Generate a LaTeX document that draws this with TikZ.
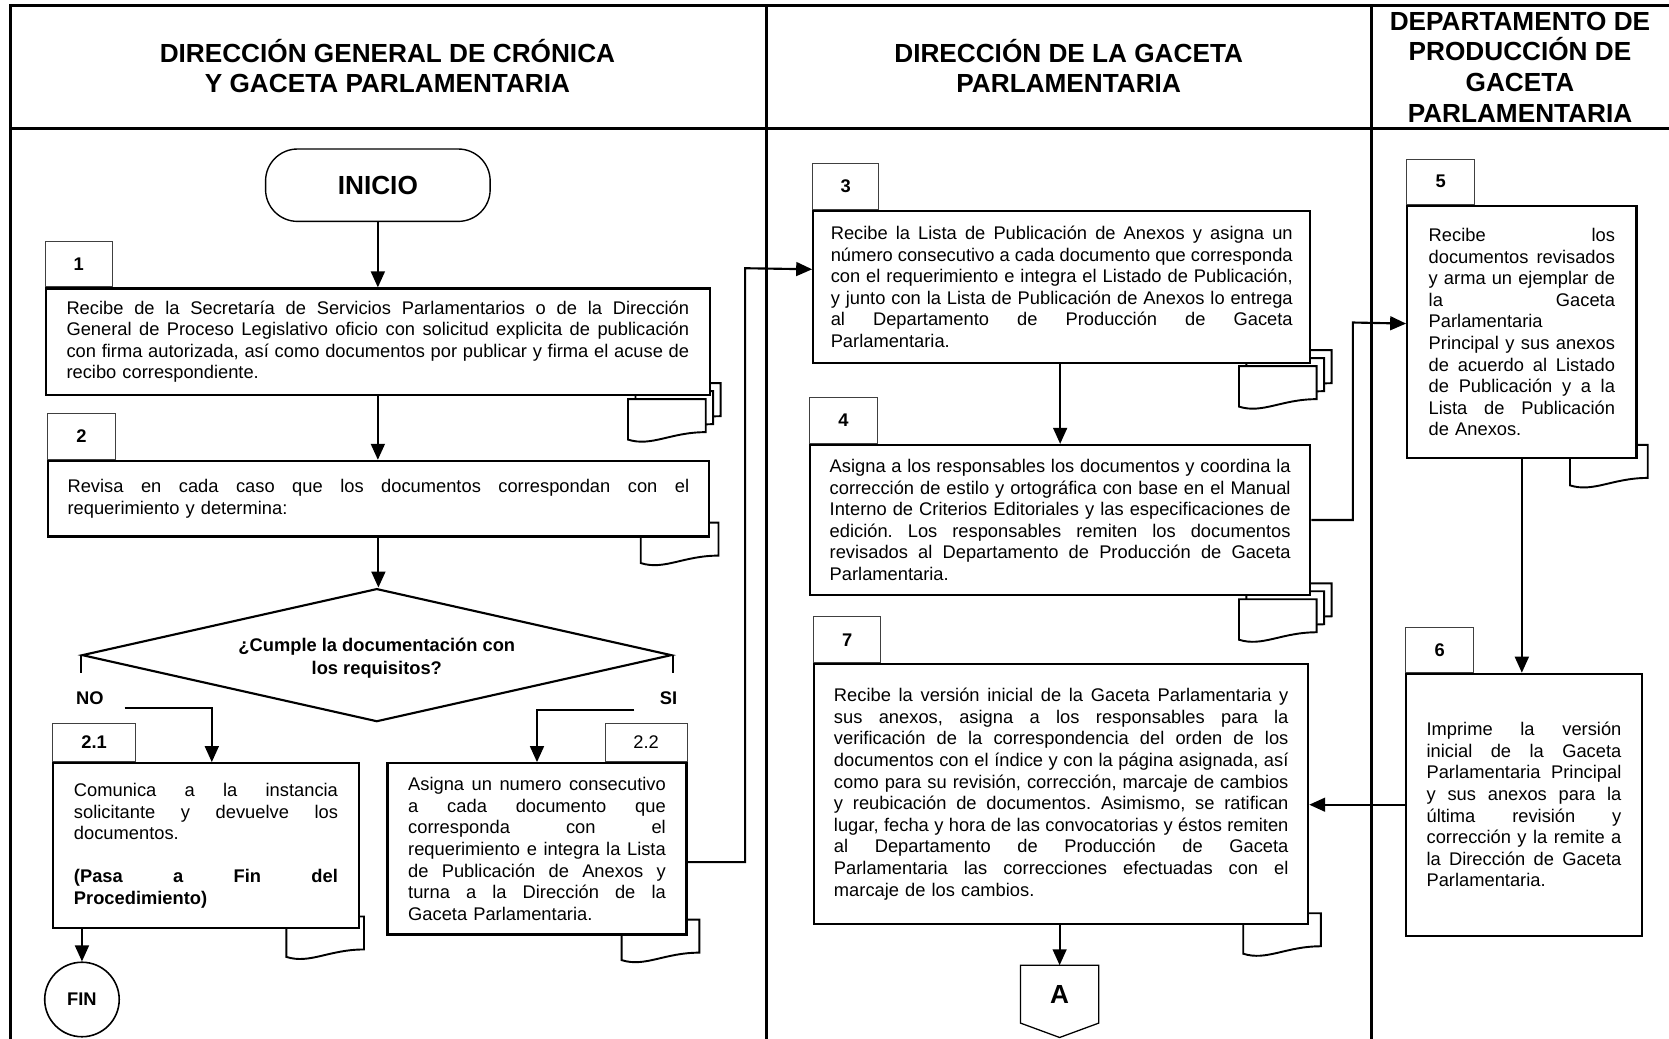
\documentclass[tikz,border=0pt]{standalone}
\usepackage{fontspec}
\setmainfont{Liberation Sans}
\usetikzlibrary{arrows.meta,shapes.geometric}
\frenchspacing

\newcommand{\cuerpo}{\fontsize{17.2pt}{20.3pt}\selectfont}
\newcommand{\negrita}{\fontsize{17.2pt}{22pt}\selectfont\bfseries}
\newcommand{\titulo}{\fontsize{24.6pt}{28.8pt}\selectfont\bfseries}
\newcommand{\jl}[1]{\makebox[\linewidth][s]{\spaceskip=0pt\xspaceskip=0pt\relax #1}\\}
\newcommand{\hoja}[2]{\draw[linhoja, shift={(#1,#2)}] (0,0) -- (73,0) -- (73,31) .. controls (40,31) and (22,45) .. (0,38) -- cycle;}
\newcommand{\pila}[2]{\hoja{#1+14}{#2-15}\hoja{#1+7}{#2-7.5}\hoja{#1}{#2}}

\tikzset{
  carril/.style={line width=2.5pt, line cap=rect},
  linhoja/.style={line width=1.8pt, fill=white},
  caja/.style={draw, line width=2pt, fill=white, anchor=north west, inner sep=0pt, align=left, font=\cuerpo},
  etiq/.style={draw=black!75, line width=1pt, minimum width=63pt, minimum height=43pt, inner sep=0pt, anchor=south west, font=\negrita},
  flujo/.style={line width=2pt, -{Triangle[length=15pt,width=13pt]}},
  linea/.style={line width=2pt}
}

\begin{document}
\begin{tikzpicture}[x=1pt, y=-1pt]
    \useasboundingbox (0,0) rectangle (1568,976);
    \draw[carril] (1568,5) -- (10,5) -- (10,976);
    \draw[carril] (10,121) -- (1568,121);
    \draw[carril] (720,5) -- (720,976);
    \draw[carril] (1288.5,5) -- (1288.5,976);

    \node[font=\titulo, align=center] (h1) at (364,62) {DIRECCIÓN GENERAL DE CRÓNICA\\Y GACETA PARLAMENTARIA};
    \node[font=\titulo, align=center] (h2) at (1004,62) {DIRECCIÓN DE LA GACETA\\PARLAMENTARIA};
    \node[font=\titulo, align=center] (h3) at (1428,63) {DEPARTAMENTO DE\\PRODUCCIÓN DE\\GACETA\\PARLAMENTARIA};

    \pila{590}{375}
    \hoja{602}{491}
    \hoja{269}{861}
    \hoja{584}{864}
    \pila{1164}{344}
    \pila{1164}{563}
    \hoja{1168}{858}
    \hoja{1475}{418}

    \node[draw, line width=1.3pt, rounded corners=30pt, minimum width=211pt, minimum height=68pt, font=\titulo] (inicio) at (355,174) {INICIO};

    \node[caja, minimum width=624pt, minimum height=100pt, text width=585pt] (b1) at (42,270) {%
\jl{Recibe de la Secretaría de Servicios Parlamentarios o de la Dirección}
\jl{General de Proceso Legislativo oficio con solicitud explicita de publicación}
\jl{con firma autorizada, así como documentos por publicar y firma el acuse de}
recibo correspondiente.};
    \node[caja, minimum width=621pt, minimum height=71pt, text width=584pt] (b2) at (44,432) {%
\jl{Revisa en cada caso que los documentos correspondan con el}
requerimiento y determina:};
    \node[diamond, draw, line width=2pt, aspect=4.4, minimum width=554pt, minimum height=125pt, inner sep=0pt, align=center, font=\negrita] (dec) at (354,615.5) {\\[-4pt]¿Cumple la documentación con\\los requisitos?};
    \node[font=\negrita] (no) at (84.5,656) {NO};
    \node[font=\negrita] (si) at (628,656) {SI};
    \node[caja, minimum width=287pt, minimum height=155pt, text width=248pt] (b21) at (49,716) {%
\jl{Comunica a la instancia}
\jl{solicitante y devuelve los}
documentos.\\[20.3pt]
\jl{\bfseries (Pasa a Fin del}
{\bfseries Procedimiento)}};
    \node[caja, minimum width=281pt, minimum height=161pt, text width=242pt] (b22) at (363,716) {%
\jl{Asigna un numero consecutivo}
\jl{a cada documento que}
\jl{corresponda con el}
\jl{requerimiento e integra la Lista}
\jl{de Publicación de Anexos y}
\jl{turna a la Dirección de la}
Gaceta Parlamentaria.};
    \node[circle, draw, line width=1.5pt, minimum size=70pt, inner sep=0pt, font=\negrita] (fin) at (77,939) {FIN};

    \node[caja, minimum width=467pt, minimum height=143pt, text width=434pt] (b3) at (763,197) {%
\jl{Recibe la Lista de Publicación de Anexos y asigna un}
\jl{número consecutivo a cada documento que corresponda}
\jl{con el requerimiento e integra el Listado de Publicación,}
\jl{y junto con la Lista de Publicación de Anexos lo entrega}
\jl{al Departamento de Producción de Gaceta}
Parlamentaria.};
    \node[caja, minimum width=470pt, minimum height=141pt, text width=433pt] (b4) at (760,417) {%
\jl{Asigna a los responsables los documentos y coordina la}
\jl{corrección de estilo y ortográfica con base en el Manual}
\jl{Interno de Criterios Editoriales y las especificaciones de}
\jl{edición. Los responsables remiten los documentos}
\jl{revisados al Departamento de Producción de Gaceta}
Parlamentaria.};
    \node[caja, minimum width=464pt, minimum height=244pt, text width=427pt] (b7) at (764,623) {%
\jl{Recibe la versión inicial de la Gaceta Parlamentaria y}
\jl{sus anexos, asigna a los responsables para la}
\jl{verificación de la correspondencia del orden de los}
\jl{documentos con el índice y con la página asignada, así}
\jl{como para su revisión, corrección, marcaje de cambios}
\jl{y reubicación de documentos. Asimismo, se ratifican}
\jl{lugar, fecha y hora de las convocatorias y éstos remiten}
\jl{al Departamento de Producción de Gaceta}
\jl{Parlamentaria las correcciones efectuadas con el}
marcaje de los cambios.};
    \node[minimum width=73pt, minimum height=54pt, inner sep=0pt, font=\titulo] (conA) at (995.5,934) {A};
    \draw[line width=1.2pt] (conA.north west) -- (conA.north east) -- (conA.south east) -- ([yshift=-13.5pt]conA.south) -- (conA.south west) -- cycle;

    \node[caja, minimum width=215.5pt, minimum height=237pt, text width=175pt] (b5) at (1321,192.5) {%
\jl{Recibe los}
\jl{documentos revisados}
\jl{y arma un ejemplar de}
\jl{la Gaceta}
Parlamentaria\\
\jl{Principal y sus anexos}
\jl{de acuerdo al Listado}
\jl{de Publicación y a la}
\jl{Lista de Publicación}
de Anexos.};
    \node[caja, minimum width=221.5pt, minimum height=246pt, text width=183pt] (b6) at (1320,632) {%
\jl{Imprime la versión}
\jl{inicial de la Gaceta}
\jl{Parlamentaria Principal}
\jl{y sus anexos para la}
\jl{última revisión y}
\jl{corrección y la remite a}
\jl{la Dirección de Gaceta}
Parlamentaria.};

    \node[etiq] (e1) at (b1.north west) {1};
    \node[etiq, minimum width=64pt] (e2) at (b2.north west) {2};
    \node[etiq, minimum width=78pt, minimum height=36pt] (e21) at (b21.north west) {2.1};
    \node[etiq, anchor=south east, minimum width=77pt, minimum height=36pt, font=\cuerpo] (e22) at (b22.north east) {2.2};
    \node[etiq, minimum width=62pt] (e3) at (b3.north west) {3};
    \node[etiq, minimum width=64pt] (e4) at (b4.north west) {4};
    \node[etiq] (e7) at (b7.north west) {7};
    \node[etiq, minimum width=64pt, minimum height=42.5pt] (e5) at (b5.north west) {5};
    \node[etiq, minimum width=64pt, minimum height=42pt] (e6) at (b6.north west) {6};

    \coordinate (nosal) at (117,665);
    \coordinate (sisal) at (596,667);
    \draw[flujo] (inicio.south) -- (inicio.south |- b1.north);
    \draw[flujo] (b1.south) -- (b1.south |- b2.north);
    \draw[flujo] (b2.south) -- (b2.south |- dec.north);
    \draw[linea] (dec.west) -- ++(0,17);
    \draw[linea] (dec.east) -- ++(0,17);
    \draw[flujo] (nosal) -| ([xshift=5.5pt]b21.north);
    \draw[flujo] (sisal) -| (b22.north);
    \draw[flujo] (b21.south -| fin) -- (fin.north);
    \draw[flujo] ([yshift=-12.5pt]b22.east) -| (700,252) -- ([yshift=16.5pt]b3.west);
    \draw[flujo] (b3.south -| b4.north) -- (b4.north);
    \draw[flujo] (b4.east) -| (1271,303) -- ([yshift=8pt]b5.west);
    \draw[flujo] (b5.south) -- (b5.south |- b6.north);
    \draw[flujo] (b6.west) -- (b6.west -| b7.east);
    \draw[flujo] (b7.south -| conA) -- (conA.north);
\end{tikzpicture}
\end{document}
